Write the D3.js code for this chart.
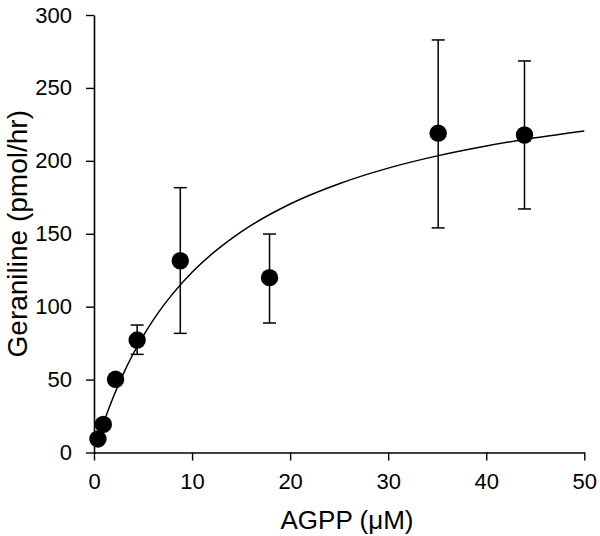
<!DOCTYPE html>
<html>
<head>
<meta charset="utf-8">
<script src="https://cdn.jsdelivr.net/npm/d3@7"></script>
<style>
  html, body { margin: 0; padding: 0; background: #fff; }
  svg { display: block; }
  text { font-family: "Liberation Sans", Arial, sans-serif; fill: #000; }
</style>
</head>
<body>
<svg id="chart" width="600" height="536"></svg>
<script>
// ---- data ----
const agpp = [0.4, 0.95, 2.2, 4.4, 8.8, 17.9, 35.1, 43.9];          // µM
const geraniline = [9.3, 19.3, 50.2, 77.1, 131.5, 119.9, 219, 217.7]; // pmol/hr
const errHigh = [null, null, null, 87.4, 181.6, 149.8, 282.9, 268.5];
const errLow  = [null, null, null, 67.3, 81.7, 88.8, 154, 167];
// fitted curve
const curveX = [0.4, 1, 2, 3, 4, 5, 6, 7, 8, 10, 12, 15, 20, 25, 30, 35, 40, 45, 50];
const curveY = [8.7, 20.8, 38.6, 54.1, 67.7, 79.7, 90.4, 100, 108.6, 123.6, 136, 151.3, 170.4, 184.3, 195, 203.4, 210.2, 215.8, 220.5];
const xTicks = [0, 10, 20, 30, 40, 50];
const yTicks = [0, 50, 100, 150, 200, 250, 300];
const xTitle = "AGPP (\u03BCM)";
const yTitle = "Geraniline (pmol/hr)";

const svg = d3.select("#chart");
const x = d3.scaleLinear().domain([0, 50]).range([94, 584.3]);
const y = d3.scaleLinear().domain([0, 300]).range([452.5, 15]);

// axes
const xAxis = svg.append("g")
  .attr("transform", `translate(0,${y(0)})`)
  .call(d3.axisBottom(x).tickValues(xTicks).tickSize(8).tickPadding(13).tickSizeOuter(0));
const yAxis = svg.append("g")
  .attr("transform", `translate(${x(0)},0)`)
  .call(d3.axisLeft(y).tickValues(yTicks).tickSize(8).tickPadding(14).tickSizeOuter(0));
[xAxis, yAxis].forEach(g => {
  g.selectAll("path.domain").attr("stroke", "#000").attr("stroke-width", 1.6);
  g.selectAll(".tick line").attr("stroke", "#000").attr("stroke-width", 1.4);
  g.selectAll(".tick text").style("font-size", "22px").style("font-family", '"Liberation Sans", Arial, sans-serif');
});

// curve
const pts = curveX.map((d, i) => [d, curveY[i]]);
svg.append("path")
  .attr("d", d3.line().x(d => x(d[0])).y(d => y(d[1])).curve(d3.curveMonotoneX)(pts))
  .attr("fill", "none").attr("stroke", "#000").attr("stroke-width", 1.5);

// error bars
const data = agpp.map((d, i) => ({x: d, y: geraniline[i], hi: errHigh[i], lo: errLow[i]}));
const eb = svg.append("g").selectAll("g").data(data.filter(d => d.hi != null)).join("g");
eb.append("line").attr("x1", d => x(d.x)).attr("x2", d => x(d.x))
  .attr("y1", d => y(d.hi)).attr("y2", d => y(d.lo))
  .attr("stroke", "#000").attr("stroke-width", 1.5);
eb.append("line").attr("x1", d => x(d.x) - 6.5).attr("x2", d => x(d.x) + 6.5)
  .attr("y1", d => y(d.hi)).attr("y2", d => y(d.hi))
  .attr("stroke", "#000").attr("stroke-width", 1.5);
eb.append("line").attr("x1", d => x(d.x) - 6.5).attr("x2", d => x(d.x) + 6.5)
  .attr("y1", d => y(d.lo)).attr("y2", d => y(d.lo))
  .attr("stroke", "#000").attr("stroke-width", 1.5);

// points
svg.append("g").selectAll("circle").data(data).join("circle")
  .attr("cx", d => x(d.x)).attr("cy", d => y(d.y)).attr("r", 8.7).attr("fill", "#000");

// titles
svg.append("text").attr("x", 347).attr("y", 529).attr("text-anchor", "middle")
  .style("font-size", "26px").text(xTitle);
svg.append("text").attr("transform", `translate(27,${y(150)}) rotate(-90)`)
  .attr("text-anchor", "middle").style("font-size", "28px").text(yTitle);
</script>
</body>
</html>
